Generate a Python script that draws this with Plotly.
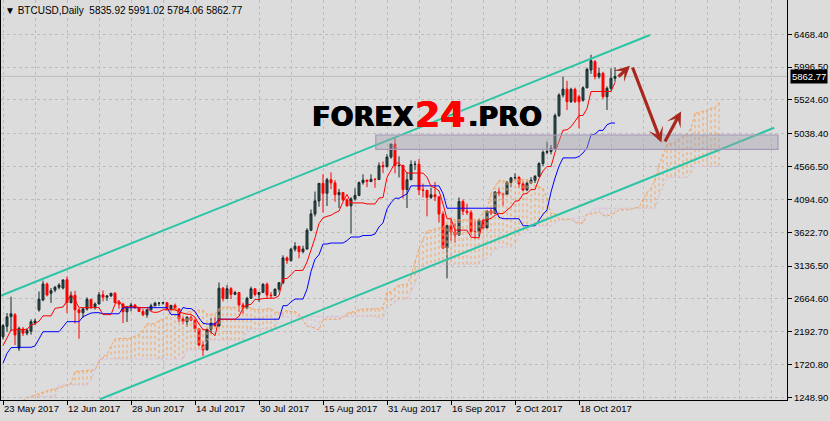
import plotly.graph_objects as go
import pandas as pd

# ---------------- data ----------------
first_dates = ['2017-05-23', '2017-05-24', '2017-05-25', '2017-05-26', '2017-05-29', '2017-05-30',
               '2017-05-31', '2017-06-01', '2017-06-02', '2017-06-05', '2017-06-06', '2017-06-07',
               '2017-06-08', '2017-06-09', '2017-06-10', '2017-06-11']
dates = first_dates + [d.strftime('%Y-%m-%d') for d in pd.date_range('2017-06-12', '2017-10-27')]

opens = [2120, 2270, 2410, 2435, 1955, 2230, 2170, 2200, 2320, 2505, 2648, 2878, 2744, 2790, 2830, 2820,
         2940, 2610, 2715, 2506, 2465, 2519, 2656, 2548, 2590, 2722, 2689, 2705, 2745, 2609, 2589, 2478,
         2552, 2575, 2539, 2481, 2435, 2506, 2564, 2602, 2603, 2609, 2519, 2571, 2518, 2373, 2338, 2399,
         2358, 2233, 1999, 1930, 2228, 2319, 2273, 2818, 2668, 2810, 2730, 2755, 2576, 2529, 2672, 2809,
         2726, 2757, 2875, 2718, 2711, 2805, 2896, 3253, 3214, 3379, 3420, 3342, 3381, 3651, 3885, 4073,
         4325, 4182, 4377, 4332, 4161, 4194, 4088, 4002, 4101, 4152, 4335, 4372, 4352, 4383, 4380, 4579,
         4565, 4703, 4890, 4579, 4583, 4236, 4377, 4597, 4600, 4229, 4226, 4123, 4161, 4131, 3883, 3395,
         3720, 3625, 3583, 4065, 3925, 3906, 3631, 3630, 3792, 3683, 3926, 3892, 4201, 4175, 4163, 4339,
         4404, 4409, 4317, 4229, 4328, 4371, 4427, 4610, 4772, 4782, 4826, 5300, 5595, 5680, 5500, 5677,
         5571, 5520, 5700, 5955, 6074, 5859, 5908, 5571, 5692, 5835.92]
highs = [2300, 2460, 2695, 2460, 2265, 2260, 2240, 2370, 2380, 2770, 2925, 2900, 2820, 2850, 2890, 2945,
         2985, 2770, 2780, 2530, 2540, 2686, 2665, 2613, 2763, 2785, 2719, 2747, 2761, 2647, 2609, 2553,
         2604, 2591, 2551, 2519, 2514, 2595, 2622, 2616, 2616, 2615, 2572, 2596, 2529, 2413, 2413, 2425,
         2385, 2240, 2058, 2230, 2387, 2397, 2900, 2833, 2862, 2833, 2779, 2757, 2610, 2693, 2841, 2810,
         2758, 2886, 2900, 2762, 2808, 2900, 3290, 3274, 3397, 3480, 3422, 3428, 3679, 3949, 4208, 4329,
         4455, 4404, 4484, 4371, 4243, 4196, 4109, 4125, 4255, 4352, 4455, 4375, 4456, 4403, 4626, 4640,
         4745, 4892, 4975, 4714, 4591, 4481, 4655, 4648, 4673, 4321, 4229, 4262, 4344, 4140, 3921, 3733,
         3809, 3749, 4123, 4094, 4031, 3940, 3789, 3817, 3813, 3940, 3969, 4210, 4258, 4190, 4358, 4410,
         4471, 4433, 4353, 4355, 4415, 4443, 4628, 4798, 4925, 4877, 5330, 5620, 5860, 5800, 5700, 5700,
         5600, 5720, 5990, 6175, 6100, 5990, 5930, 5720, 5980, 5991.02]
lows = [2080, 2190, 2200, 2000, 1915, 2130, 2140, 2150, 2290, 2480, 2630, 2700, 2605, 2760, 2800, 2800,
        2460, 2600, 2310, 2090, 2390, 2495, 2517, 2510, 2589, 2627, 2635, 2696, 2599, 2522, 2315, 2332,
        2484, 2520, 2476, 2415, 2394, 2498, 2559, 2563, 2581, 2498, 2494, 2518, 2329, 2296, 2265, 2340,
        2183, 1990, 1843, 1925, 2164, 2260, 2269, 2626, 2663, 2662, 2716, 2480, 2450, 2520, 2663, 2700,
        2622, 2750, 2665, 2669, 2710, 2770, 2874, 3167, 3200, 3345, 3247, 3319, 3372, 3637, 3849, 3989,
        3906, 4000, 4242, 4061, 3971, 4069, 3988, 3603, 4078, 4140, 4307, 4269, 4341, 4262, 4376, 4471,
        4555, 4678, 4469, 4410, 4108, 3971, 4374, 4516, 4155, 4123, 3851, 4099, 4069, 3760, 3380, 2960,
        3501, 3474, 3570, 3868, 3871, 3576, 3522, 3563, 3664, 3681, 3869, 3890, 4140, 3999, 4160, 4269,
        4378, 4258, 4210, 4220, 4318, 4330, 4418, 4574, 4742, 4742, 4810, 5280, 5560, 5380, 5480, 5480,
        5117, 5500, 5690, 5900, 5820, 5830, 5540, 5380, 5660, 5784.06]
closes = [2280, 2405, 2450, 2145, 2240, 2170, 2210, 2335, 2345, 2658, 2878, 2720, 2782, 2830, 2862, 2935,
          2610, 2715, 2506, 2465, 2519, 2656, 2548, 2590, 2722, 2689, 2705, 2745, 2609, 2589, 2478, 2552,
          2575, 2539, 2481, 2435, 2506, 2564, 2602, 2603, 2609, 2519, 2571, 2518, 2373, 2338, 2399, 2358,
          2233, 1999, 1930, 2228, 2319, 2273, 2818, 2668, 2810, 2730, 2755, 2576, 2529, 2672, 2809, 2726,
          2757, 2875, 2718, 2711, 2805, 2896, 3253, 3214, 3379, 3420, 3342, 3381, 3651, 3885, 4073, 4325,
          4182, 4377, 4332, 4161, 4194, 4088, 4002, 4101, 4152, 4335, 4372, 4352, 4383, 4380, 4579, 4565,
          4703, 4890, 4579, 4583, 4236, 4377, 4597, 4600, 4229, 4226, 4123, 4161, 4131, 3883, 3395, 3720,
          3625, 3583, 4065, 3925, 3906, 3631, 3630, 3792, 3683, 3926, 3892, 4201, 4175, 4163, 4339, 4404,
          4409, 4317, 4229, 4328, 4371, 4427, 4610, 4772, 4782, 4826, 5300, 5595, 5680, 5500, 5677, 5500,
          5499, 5700, 5965, 6089, 5859, 5908, 5571, 5692, 5836, 5862.77]

# Ichimoku values visible at the left edge (before full look-back is available)
tenkan_start = [1990, 2095, 2215, 2220, 2220, 2225, 2225, 2290]
kijun_start = [1738, 1880, 1962, 1968, 1968, 1968, 1968, 1968, 1986, 2090, 2192, 2192, 2192, 2192, 2192,
               2260, 2336, 2336, 2336, 2336, 2408, 2432, 2460, 2465, 2465]
span_a_start = [1150, 1160, 1170, 1180, 1190, 1200, 1240, 1260, 1280, 1300, 1330, 1350, 1360, 1370, 1380,
                1400, 1430, 1450, 1617, 1625, 1630, 1635, 1640, 1640, 1760, 1832]
span_b_start = ([1180] * 6 + [1260] * 8 + [1426] * 8 + [1500, 1650] + [1800] * 22 + [1930] * 5
                + [2072] * 10 + [2230] * 8 + [2408] * 8)

x_tick_idx = [0, 16, 32, 48, 64, 80, 96, 112, 128, 144]
x_tick_text = ['23 May 2017', '12 Jun 2017', '28 Jun 2017', '14 Jul 2017', '30 Jul 2017',
               '15 Aug 2017', '31 Aug 2017', '16 Sep 2017', '2 Oct 2017', '18 Oct 2017']
y_tick_vals = [6468.40, 5996.50, 5524.60, 5038.40, 4566.50, 4094.60, 3622.70, 3136.50,
               2664.60, 2192.70, 1720.80, 1248.90]

last_price = 5862.77
title_text = '▼ BTCUSD,Daily  5835.92 5991.02 5784.06 5862.77'

# drawn objects (bar index, price)
channel_upper = ([-0.75, 161.75], [2705, 6458])
channel_lower = ([24.25, 192.8], [1220, 5125])
zone = ([93.2, 193.75], [4815, 5020])
arrows = [((153.5, 5840), (156.75, 6015)),
          ((157.25, 6012), (164.6, 4912)),
          ((165.3, 4905), (169.5, 5360))]

# ---------------- indicator lines ----------------
n = len(closes)
tenkan, kijun = [], []
for i in range(n):
    if i < 8:
        tenkan.append(tenkan_start[i])
    else:
        tenkan.append((max(highs[i - 8:i + 1]) + min(lows[i - 8:i + 1])) / 2)
    if i < 25:
        kijun.append(kijun_start[i])
    else:
        kijun.append((max(highs[i - 25:i + 1]) + min(lows[i - 25:i + 1])) / 2)

span_a = list(span_a_start) + [(tenkan[j] + kijun[j]) / 2 for j in range(n)]
span_b = list(span_b_start)
for i in range(77, n + 26):
    j = i - 26
    span_b.append((max(highs[j - 51:j + 1]) + min(lows[j - 51:j + 1])) / 2)
xs_span = list(range(len(span_a)))
xs = list(range(n))

hx_up, hy_up, hx_dn, hy_dn = [], [], [], []
for i, (a, b) in enumerate(zip(span_a, span_b)):
    if a >= b:
        hx_up += [i, i, None]; hy_up += [a, b, None]
    else:
        hx_dn += [i, i, None]; hy_dn += [a, b, None]

BG = '#DCDCDC'
GRID = '#BDBDBD'
SANDY = '#F4A460'
THISTLE = '#D8BFD8'
FONT = 'Liberation Sans'

fig = go.Figure()
fig.add_trace(go.Scatter(x=hx_up, y=hy_up, mode='lines', line=dict(color=SANDY, width=1, dash='3px,3px'),
                         hoverinfo='skip', showlegend=False))
fig.add_trace(go.Scatter(x=hx_dn, y=hy_dn, mode='lines', line=dict(color=THISTLE, width=1, dash='3px,3px'),
                         hoverinfo='skip', showlegend=False))
fig.add_trace(go.Scatter(x=xs_span, y=span_b, mode='lines', line=dict(color=THISTLE, width=1, dash='3px,2px'),
                         name='Senkou B', showlegend=False))
fig.add_trace(go.Scatter(x=xs_span, y=span_a, mode='lines', line=dict(color=SANDY, width=1, dash='3px,2px'),
                         name='Senkou A', showlegend=False))

fig.add_trace(go.Candlestick(
    x=xs, open=opens, high=highs, low=lows, close=closes, text=dates,
    increasing=dict(line=dict(color='#172b2b', width=1), fillcolor='#2F4F4F'),
    decreasing=dict(line=dict(color='#FF0000', width=1), fillcolor='#FF0000'),
    whiskerwidth=0, showlegend=False, name='BTCUSD'))

fig.add_trace(go.Scatter(x=xs, y=kijun, mode='lines', line=dict(color='#0000FF', width=1),
                         name='Kijun', showlegend=False))
fig.add_trace(go.Scatter(x=xs, y=tenkan, mode='lines', line=dict(color='#FF0000', width=1),
                         name='Tenkan', showlegend=False))

shapes = []
shapes.append(dict(type='line', xref='paper', x0=0, x1=1, yref='y', y0=last_price, y1=last_price,
                   line=dict(color='#BEBEBE', width=1), layer='below'))
for (cx, cy) in (channel_upper, channel_lower):
    shapes.append(dict(type='line', xref='x', yref='y', x0=cx[0], x1=cx[1], y0=cy[0], y1=cy[1],
                       line=dict(color='#2BC4A4', width=2), layer='above'))
shapes.append(dict(type='rect', xref='x', yref='y', x0=zone[0][0], x1=zone[0][1], y0=zone[1][0],
                   y1=zone[1][1], fillcolor='rgba(160,160,172,0.42)',
                   line=dict(color='#A898B8', width=1.2), layer='above'))

annotations = []
for (tx, ty), (hx, hy) in arrows:
    annotations.append(dict(x=hx, y=hy, xref='x', yref='y', ax=tx, ay=ty, axref='x', ayref='y',
                            showarrow=True, arrowhead=3, arrowsize=0.8, arrowwidth=3.2,
                            arrowcolor='#A8281E', text=''))
annotations.append(dict(xref='paper', yref='paper', x=0, y=1, xanchor='left', yanchor='top',
                        xshift=2, yshift=-3, showarrow=False, text=title_text,
                        font=dict(family=FONT, size=10, color='black')))
annotations.append(dict(xref='paper', yref='y', x=1, y=last_price, xanchor='left', yanchor='middle',
                        xshift=3, showarrow=False, text='5862.77', bgcolor='black', borderpad=1,
                        font=dict(family=FONT, size=9.5, color='white')))

# watermark, in three pieces
WM_FONT = 'DejaVu Sans'
annotations.append(dict(xref='paper', yref='paper', x=0.5285, y=0.708, xanchor='right', yanchor='middle',
                        showarrow=False, text='<b>FOREX</b>',
                        font=dict(family=WM_FONT, size=27, color='black',
                                  shadow='0.8px 0 0 #000, -0.4px 0 0 #000')))
annotations.append(dict(xref='paper', yref='paper', x=0.5588, y=0.713, xanchor='center', yanchor='middle',
                        showarrow=False, text='<b>24</b>',
                        font=dict(family=WM_FONT, size=36, color='#FF0000',
                                  shadow='0.8px 0 0 #F00, -0.4px 0 0 #F00')))
annotations.append(dict(xref='paper', yref='paper', x=0.5915, y=0.708, xanchor='left', yanchor='middle',
                        showarrow=False, text='<b>.PRO</b>',
                        font=dict(family=WM_FONT, size=27, color='black',
                                  shadow='0.8px 0 0 #000, -0.4px 0 0 #000')))

fig.update_layout(
    width=830, height=421,
    margin=dict(l=1, r=43, t=0, b=21),
    paper_bgcolor=BG, plot_bgcolor=BG,
    showlegend=False,
    shapes=shapes, annotations=annotations,
    xaxis=dict(range=[-0.5, 196], tickmode='array', tickvals=x_tick_idx, ticktext=x_tick_text,
               ticks='outside', ticklen=4, tickcolor='black', showline=True, linecolor='black',
               linewidth=1, showgrid=True, gridcolor=GRID, griddash='3px,3px', zeroline=False,
               ticklabelposition='outside right', tickfont=dict(family=FONT, size=9.5, color='black'),
               rangeslider=dict(visible=False),
               minor=dict(tickvals=[v for v in range(0, 200, 8) if v not in x_tick_idx], showgrid=True,
                          gridcolor=GRID, griddash='3px,3px', ticks='')),
    yaxis=dict(side='right', range=[1209.7, 6961.6], tickmode='array', tickvals=y_tick_vals,
               ticktext=['%.2f' % v for v in y_tick_vals], ticks='outside', ticklen=4, tickcolor='black',
               showline=True, linecolor='black', linewidth=1, mirror=True, showgrid=True,
               gridcolor=GRID, griddash='3px,3px', zeroline=False,
               tickfont=dict(family=FONT, size=9.5, color='black')),
)

fig.write_html('out.html', config={'displayModeBar': False},
               post_script="document.body.style.margin='0';document.body.style.overflow='hidden';")
